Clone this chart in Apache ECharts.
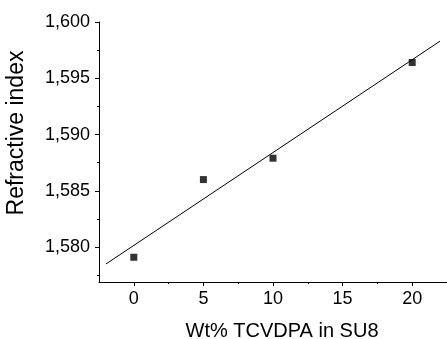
<!DOCTYPE html>
<html>
<head>
<meta charset="utf-8">
<script src="https://cdn.jsdelivr.net/npm/echarts@6/dist/echarts.min.js"></script>
<style>
  html, body { margin: 0; padding: 0; background: #fff; }
  #chart { width: 447px; height: 339px; }
</style>
</head>
<body>
<div id="chart"></div>
<script>
// measured points
const wtPercent = [0, 5, 10, 20]
const refractiveIndex = [1.5791, 1.5860, 1.5879, 1.5964]
// linear fit line end points
const fitX = [-2, 22]
const fitY = [1.5785, 1.5983]
// ticks
const xTicks = [0, 5, 10, 15, 20]
const xMinorTicks = [2.5, 7.5, 12.5, 17.5]
const yTicks = [1.580, 1.585, 1.590, 1.595, 1.600]
const yMinorTicks = [1.5775, 1.5825, 1.5875, 1.5925, 1.5975]

const font = 'Liberation Sans, Arial, sans-serif'
const chart = echarts.init(document.getElementById('chart'))

const baseX = {
  type: 'value', min: -2.5, max: 22.5, position: 'bottom',
  splitLine: { show: false }
}
const baseY = {
  type: 'value', min: 1.5769, max: 1.600, position: 'left',
  splitLine: { show: false }
}

chart.setOption({
  animation: false,
  backgroundColor: '#fff',
  grid: { left: 99, top: 22, right: 0, bottom: 57, outerBoundsMode: 'none', containLabel: false },
  xAxis: [
    Object.assign({}, baseX, {
      name: 'Wt% TCVDPA in SU8',
      nameLocation: 'middle',
      nameGap: 39,
      nameTextStyle: { color: '#000', fontSize: 20, fontFamily: font, padding: [0, 0, 0, 18] },
      axisLine: { onZero: false, lineStyle: { color: '#000', width: 1 } },
      axisTick: { customValues: xTicks, length: 4, lineStyle: { color: '#000' } },
      axisLabel: { customValues: xTicks, margin: 8, color: '#000', fontSize: 18, fontFamily: font }
    }),
    Object.assign({}, baseX, {
      axisLine: { show: false, onZero: false },
      axisTick: { customValues: xMinorTicks, length: 2, lineStyle: { color: '#000' } },
      axisLabel: { show: false }
    })
  ],
  yAxis: [
    Object.assign({}, baseY, {
      name: 'Refractive index',
      nameLocation: 'middle',
      nameGap: 71,
      nameTextStyle: { color: '#000', fontSize: 23, fontFamily: font, padding: [0, 0, 0, 38] },
      axisLine: { onZero: false, lineStyle: { color: '#000', width: 1 } },
      axisTick: { customValues: yTicks, length: 4, lineStyle: { color: '#000' } },
      axisLabel: {
        customValues: yTicks, margin: 9, color: '#000', fontSize: 18, fontFamily: font,
        formatter: v => v.toFixed(3).replace('.', ',')
      }
    }),
    Object.assign({}, baseY, {
      axisLine: { show: false, onZero: false },
      axisTick: { customValues: yMinorTicks, length: 2, lineStyle: { color: '#000' } },
      axisLabel: { show: false }
    })
  ],
  series: [
    {
      type: 'line',
      data: fitX.map((x, i) => [x, fitY[i]]),
      showSymbol: false,
      lineStyle: { color: '#000', width: 1 },
      silent: true
    },
    {
      type: 'scatter',
      data: wtPercent.map((x, i) => [x, refractiveIndex[i]]),
      symbol: 'rect',
      symbolSize: 7,
      itemStyle: { color: '#000' }
    }
  ]
})
</script>
</body>
</html>
